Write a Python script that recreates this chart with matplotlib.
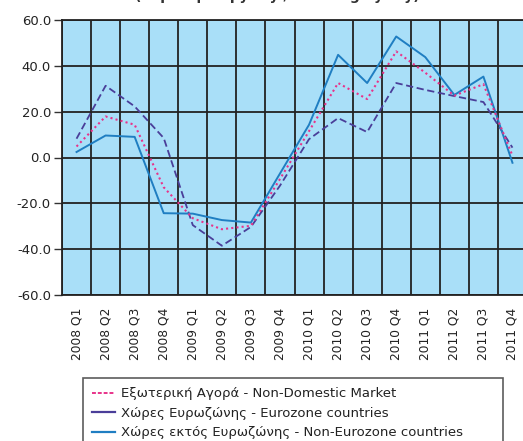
import matplotlib
matplotlib.use("Agg")
import matplotlib.pyplot as plt
from matplotlib.lines import Line2D
import numpy as np

quarters = ["2008 Q1", "2008 Q2", "2008 Q3", "2008 Q4",
            "2009 Q1", "2009 Q2", "2009 Q3", "2009 Q4",
            "2010 Q1", "2010 Q2", "2010 Q3", "2010 Q4",
            "2011 Q1", "2011 Q2", "2011 Q3", "2011 Q4"]
non_domestic = [4.8, 17.9, 14.3, -13.0, -26.5, -31.3, -29.8, -9.4,
                11.5, 32.5, 25.5, 46.3, 37.0, 27.0, 32.0, 0.8]
eurozone = [8.2, 31.3, 22.3, 8.5, -29.5, -38.5, -30.3, -12.3,
            8.0, 17.2, 11.1, 32.5, 29.5, 26.8, 24.2, 4.3]
non_eurozone = [2.4, 9.6, 9.0, -24.3, -24.5, -27.3, -28.4, -7.0,
                14.3, 44.8, 32.5, 52.8, 43.8, 27.3, 35.3, -2.3]
y_ticks = [-60, -40, -20, 0, 20, 40, 60]
labels = ["Εξωτερική Αγορά - Non-Domestic Market",
          "Χώρες Ευρωζώνης - Eurozone countries",
          "Χώρες εκτός Ευρωζώνης - Non-Eurozone countries"]

W, H = 523, 441
fig = plt.figure(figsize=(W / 100, H / 100), dpi=100)
ax = fig.add_axes([62 / W, (H - 295) / H, 465 / W, 275 / H])
ax.set_facecolor("#A9DFF8")

x = np.arange(len(quarters))
c_pink = "#E8338A"
c_purple = "#4A3E99"
c_blue = "#1F7EC2"
ax.plot(x, eurozone, color=c_purple, lw=1.3, ls=(0, (4, 2)), zorder=3)
ax.plot(x, non_eurozone, color=c_blue, lw=1.4, ls="-", zorder=4)
ax.plot(x, non_domestic, color=c_pink, lw=1.5, ls=(0, (1, 1.5)), zorder=5)

ax.set_xlim(-0.5, len(quarters) - 0.5)
ax.set_ylim(-60, 60)
ax.set_yticks(y_ticks)
ax.set_yticklabels([f"{v:.1f}" for v in y_ticks], fontsize=9.5, color="#222222")
ax.set_xticks(x)
ax.set_xticklabels(quarters, rotation=90, fontsize=8.8, color="#222222")
ax.set_xticks(np.arange(-0.5, len(quarters), 1), minor=True)
ax.tick_params(axis="x", which="both", length=0, pad=9)
ax.tick_params(axis="y", length=6, width=1.0, color="#333333", pad=2)
ax.grid(True, axis="y", which="major", color="#222222", lw=1.3, zorder=1)
ax.grid(True, axis="x", which="minor", color="#222222", lw=1.3, zorder=1)
ax.set_axisbelow(True)
for s in ax.spines.values():
    s.set_color("#222222")
    s.set_linewidth(1.3)

fig.text(0.53, 1.0 + 4.5 / H, "(% μεταβολή y-o-y / % change y-o-y)",
         ha="center", va="center", fontsize=10, fontweight="bold", color="#333333")

handles = [Line2D([], [], color=c_pink, lw=1.4, ls=(0, (2, 1))),
           Line2D([], [], color=c_purple, lw=1.6),
           Line2D([], [], color=c_blue, lw=1.6)]
leg = fig.legend(handles, labels, loc="upper left",
                 bbox_to_anchor=(83 / W, 1 - 378 / H, 420 / W, 0),
                 mode="expand", fontsize=9.5, frameon=True, fancybox=False,
                 edgecolor="#333333", handlelength=1.7, handletextpad=0.5,
                 labelspacing=0.5, borderaxespad=0, borderpad=0.7)
leg.get_frame().set_linewidth(1.2)
for t in leg.get_texts():
    t.set_color("#222222")

fig.savefig("out.png", dpi=100)
